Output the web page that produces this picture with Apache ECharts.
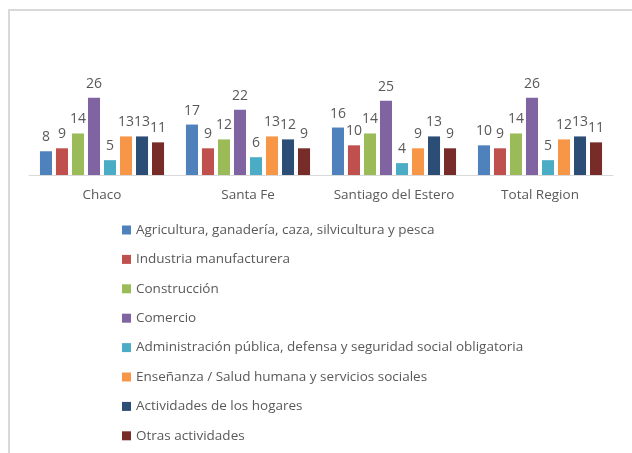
<!DOCTYPE html>
<html>
<head>
<meta charset="utf-8">
<script src="https://cdn.jsdelivr.net/npm/echarts@6/dist/echarts.min.js"></script>
<style>
  html, body { margin: 0; padding: 0; background: #fff; }
  #container { width: 632px; height: 453px; }
</style>
</head>
<body>
<div id="container"></div>
<script>
var provincias = ['Chaco', 'Santa Fe', 'Santiago del Estero', 'Total Region'];

var agricultura = [8, 17, 16, 10];
var industria = [9, 9, 10, 9];
var construccion = [14, 12, 14, 14];
var comercio = [26, 22, 25, 26];
var administracion = [5, 6, 4, 5];
var ensenanza = [13, 13, 9, 12];
var hogares = [13, 12, 13, 13];
var otras = [11, 9, 9, 11];

var nombres = [
    'Agricultura, ganadería, caza, silvicultura y pesca',
    'Industria manufacturera',
    'Construcción',
    'Comercio',
    'Administración pública, defensa y seguridad social obligatoria',
    'Enseñanza / Salud humana y servicios sociales',
    'Actividades de los hogares',
    'Otras actividades'
];
var valores = [agricultura, industria, construccion, comercio, administracion, ensenanza, hogares, otras];
var colores = ['#4F81BD', '#C0504D', '#9BBB59', '#8064A2', '#4BACC6', '#F79646', '#2C4D75', '#772C2A'];

var myChart = echarts.init(document.getElementById('container'));

var series = nombres.map(function (n, i) {
    return {
        name: n,
        type: 'bar',
        data: valores[i],
        barGap: '33%',
        barCategoryGap: '15%',
        itemStyle: { color: colores[i] },
        label: {
            show: true,
            position: 'top',
            distance: 7,
            color: '#595959',
            fontSize: 14,
            fontFamily: 'Open Sans'
        }
    };
});

var option = {
    animation: false,
    color: colores,
    graphic: [{
        type: 'rect',
        shape: { x: 9, y: 10, width: 700, height: 500 },
        style: { fill: 'none', stroke: '#d9d9d9', lineWidth: 2 }
    }],
    grid: {
        left: 29,
        right: 19,
        top: 86,
        bottom: 278
    },
    legend: {
        data: nombres,
        orient: 'vertical',
        left: 122,
        top: 222,
        height: 240,
        padding: 0,
        icon: 'rect',
        itemWidth: 9,
        itemHeight: 9,
        itemGap: 13.4,
        itemTextGap: 4,
        itemStyle: { borderWidth: 0 },
        textStyle: {
            color: '#595959',
            fontSize: 13.5,
            lineHeight: 16,
            fontFamily: 'Open Sans'
        }
    },
    xAxis: {
        type: 'category',
        data: provincias,
        axisLine: { lineStyle: { color: '#d9d9d9', width: 1 } },
        axisTick: { show: false },
        axisLabel: {
            interval: 0,
            color: '#595959',
            fontSize: 13.5,
            fontFamily: 'Open Sans',
            margin: 13
        }
    },
    yAxis: {
        type: 'value',
        min: 0,
        max: 30,
        show: false,
        splitLine: { show: false }
    },
    series: series
};

myChart.setOption(option, true);
window.onresize = function () {
    myChart.resize();
};
</script>
</body>
</html>
